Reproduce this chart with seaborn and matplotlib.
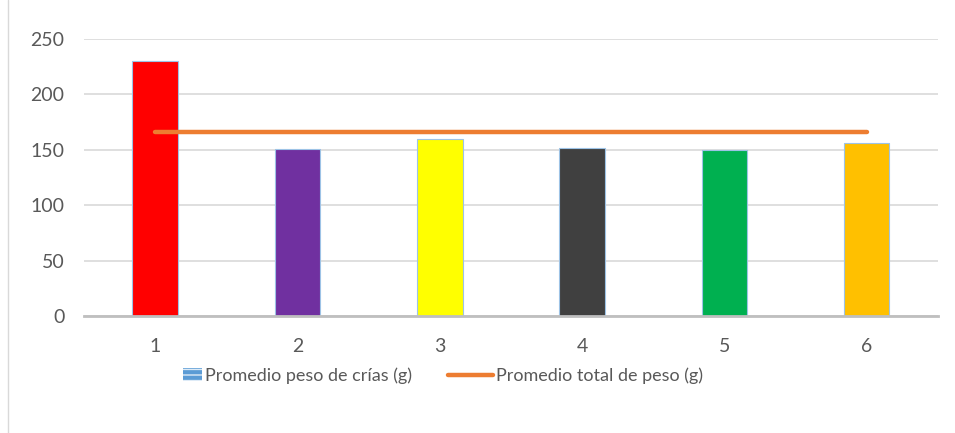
import matplotlib
matplotlib.use("Agg")
import matplotlib.pyplot as plt
from matplotlib.patches import Patch, Rectangle
from matplotlib.lines import Line2D
from matplotlib.legend_handler import HandlerPatch
import pandas as pd
import seaborn as sns

# data
categories = ["1", "2", "3", "4", "5", "6"]
peso_crias = [230, 151, 160, 152, 150, 156]
peso_total = [166.5, 166.5, 166.5, 166.5, 166.5, 166.5]
bar_colors = ["#FF0000", "#7030A0", "#FFFF00", "#404040", "#00B050", "#FFC000"]

label_bars = "Promedio peso de crías (g)"
label_line = "Promedio total de peso (g)"


def small_box(legend, orig_handle, xdescent, ydescent, width, height, fontsize):
    # narrow patch sitting right next to the text
    w = height * 1.5
    return Rectangle((width - w - xdescent, -ydescent), w, height)


def main() -> None:
    sns.set_style("white")
    plt.rcParams["font.family"] = ["Lato", "DejaVu Sans"]

    data = pd.DataFrame({"x": categories, "crias": peso_crias, "total": peso_total})

    fig = plt.figure(figsize=(9.55, 4.33), dpi=100)
    ax = fig.add_axes([0.088, 0.270, 0.894, 0.640])

    sns.barplot(data=data, x="x", y="crias", hue="x", palette=bar_colors,
                width=0.32, legend=False, edgecolor="#9DC3E6", linewidth=0.8,
                saturation=1, ax=ax)
    sns.lineplot(data=data, x="x", y="total", color="#ED7D31", linewidth=3.2,
                 solid_capstyle="round", ax=ax, zorder=3)

    ax.set_ylim(0, 250)
    ax.set_xlim(-0.5, 5.5)
    ax.set_yticks([0, 50, 100, 150, 200, 250])
    ax.yaxis.grid(True, color="#D9D9D9", linewidth=1.2)
    ax.set_axisbelow(True)
    ax.set_xlabel("")
    ax.set_ylabel("")
    for side in ["top", "right", "left"]:
        ax.spines[side].set_visible(False)
    ax.spines["bottom"].set_color("#BFBFBF")
    ax.spines["bottom"].set_linewidth(2)
    ax.tick_params(axis="both", length=0, labelsize=14, colors="#595959")
    ax.tick_params(axis="x", pad=16)
    ax.tick_params(axis="y", pad=14)

    handles = [
        Patch(facecolor="#5B9BD5", edgecolor="#DEEBF7", hatch="---", linewidth=0),
        Line2D([0], [0], color="#ED7D31", linewidth=3.2, solid_capstyle="round"),
    ]
    leg = fig.legend(handles, [label_bars, label_line], loc="center",
                     bbox_to_anchor=(0.45, 0.132), ncol=2, frameon=False,
                     fontsize=13, handlelength=2.5, handletextpad=0.15,
                     columnspacing=2.0,
                     handler_map={Patch: HandlerPatch(patch_func=small_box)})
    for t in leg.get_texts():
        t.set_color("#595959")

    # chart area border (left edge visible in the reference)
    fig.add_artist(Line2D([8 / 955, 8 / 955], [0, 1], color="#D9D9D9",
                          linewidth=1, transform=fig.transFigure))

    fig.savefig("out.png", dpi=100)


if __name__ == "__main__":
    main()
